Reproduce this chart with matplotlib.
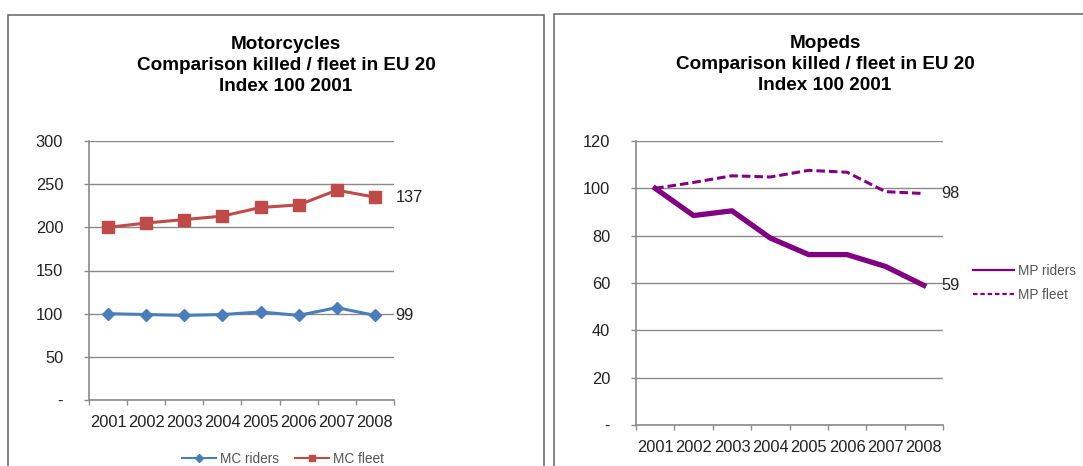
import matplotlib
matplotlib.use("Agg")
import matplotlib.pyplot as plt
import matplotlib.ticker as mticker
from matplotlib.lines import Line2D
from matplotlib.patches import Rectangle
import numpy as np

plt.rcParams["font.family"] = ["Liberation Sans", "DejaVu Sans"]

# ── data ──────────────────────────────────────────────────────────────────────
YEARS = ["2001", "2002", "2003", "2004", "2005", "2006", "2007", "2008"]

MC_RIDERS = [100, 99, 98, 99, 102, 98, 107, 98]
MC_FLEET = [200, 205, 209, 213, 223, 226, 243, 235]
MC_LABELS = {"MC riders": "99", "MC fleet": "137"}

MP_RIDERS = [100, 88.5, 90.5, 79, 72, 72, 67, 59]
MP_FLEET = [100, 102.5, 105.3, 104.8, 107.6, 106.8, 98.6, 97.8]
MP_LABELS = {"MP riders": "59", "MP fleet": "98"}

TITLE_MC = "Motorcycles\nComparison killed / fleet in EU 20\nIndex 100 2001"
TITLE_MP = "Mopeds\nComparison killed / fleet in EU 20\nIndex 100 2001"

# ── style ─────────────────────────────────────────────────────────────────────
W, H = 1083, 466
C_BLUE = "#4a7ebb"
C_RED = "#be4b48"
C_PURPLE = "#820082"
C_GRID = "#8a8a8a"
C_BORDER = "#6e6e6e"
FS_TICK = 11.8
FS_TITLE = 13.6
FS_LEG = 9.8


def px(x0, y0, x1, y1):
    """pixel box (top-left origin) -> figure fraction [l, b, w, h]"""
    return [x0 / W, 1 - y1 / H, (x1 - x0) / W, (y1 - y0) / H]


def style_axes(ax, ymax, step):
    n = len(YEARS)
    ax.set_xlim(-0.5, n - 0.5)
    ax.set_ylim(0, ymax)
    ax.set_yticks(np.arange(0, ymax + 1, step))
    ax.yaxis.set_major_formatter(
        mticker.FuncFormatter(lambda v, p: "-" if v == 0 else f"{v:.0f}"))
    ax.set_xticks(range(n))
    ax.set_xticklabels(YEARS)
    ax.set_xticks(np.arange(-0.5, n, 1), minor=True)
    ax.tick_params(axis="x", which="major", length=0, pad=10.5, labelsize=FS_TICK,
                   labelcolor="#222222")
    ax.tick_params(axis="x", which="minor", length=3.6, width=1, color=C_GRID,
                   direction="out")
    ax.tick_params(axis="y", length=3.6, width=1, color=C_GRID, pad=15,
                   labelsize=FS_TICK, labelcolor="#222222")
    ax.grid(axis="y", color=C_GRID, linewidth=1)
    ax.set_axisbelow(True)
    for s in ["top", "right"]:
        ax.spines[s].set_visible(False)
    for s in ["left", "bottom"]:
        ax.spines[s].set_color(C_GRID)
        ax.spines[s].set_linewidth(1.2)


fig = plt.figure(figsize=(W / 100, H / 100), dpi=100)

# panel frames (bottom edges run off the picture, as in the original crop)
fig.patches.append(Rectangle((8 / W, -0.1), (544 - 8) / W, 1.1 - 14.5 / H,
                             transform=fig.transFigure, fill=False,
                             edgecolor=C_BORDER, linewidth=1.2))
fig.patches.append(Rectangle((554 / W, -0.1), 1.0, 1.1 - 14 / H,
                             transform=fig.transFigure, fill=False,
                             edgecolor=C_BORDER, linewidth=1.2))

# ── Motorcycles ───────────────────────────────────────────────────────────────
ax1 = fig.add_axes(px(89, 141, 394, 400))
x = np.arange(len(YEARS))
ax1.plot(x, MC_RIDERS, color=C_BLUE, lw=2.2, marker="D", ms=6.5, zorder=3)
ax1.plot(x, MC_FLEET, color=C_RED, lw=2.2, marker="s", ms=8, zorder=3)
style_axes(ax1, 300, 50)
ax1.annotate(MC_LABELS["MC fleet"], (len(YEARS) - 0.5, MC_FLEET[-1]),
             xytext=(1, 0), textcoords="offset points", ha="left", va="center",
             fontsize=FS_TICK, color="#222222", annotation_clip=False)
ax1.annotate(MC_LABELS["MC riders"], (len(YEARS) - 0.5, MC_RIDERS[-1]),
             xytext=(1, 0), textcoords="offset points", ha="left", va="center",
             fontsize=FS_TICK, color="#222222", annotation_clip=False)

h_mc = [Line2D([], [], color=C_BLUE, lw=1.5, marker="D", ms=4),
        Line2D([], [], color=C_RED, lw=1.5, marker="s", ms=5)]
fig.legend(h_mc, ["MC riders", "MC fleet"], loc="center",
           bbox_to_anchor=(283 / W, 1 - 459 / H), ncol=2, frameon=False,
           fontsize=FS_LEG, handlelength=2.5, handletextpad=0.25,
           columnspacing=1.2, borderpad=0, labelcolor="#555555")

fig.text(286 / W, 1 - 65.5 / H, TITLE_MC, ha="center", va="center",
         fontsize=FS_TITLE, fontweight="bold", linespacing=1.3)

# ── Mopeds ────────────────────────────────────────────────────────────────────
ax2 = fig.add_axes(px(636, 141, 943, 425))
ax2.plot(x, MP_RIDERS, color=C_PURPLE, lw=3.8, solid_joinstyle="round", zorder=3)
ax2.plot(x, MP_FLEET, color=C_PURPLE, lw=2.2, dashes=(2.8, 1.3), zorder=3)
style_axes(ax2, 120, 20)
ax2.annotate(MP_LABELS["MP fleet"], (len(YEARS) - 0.5, MP_FLEET[-1]),
             xytext=(-1, 0), textcoords="offset points", ha="left", va="center",
             fontsize=FS_TICK, color="#222222", annotation_clip=False)
ax2.annotate(MP_LABELS["MP riders"], (len(YEARS) - 0.5, MP_RIDERS[-1]),
             xytext=(-1, 0), textcoords="offset points", ha="left", va="center",
             fontsize=FS_TICK, color="#222222", annotation_clip=False)

h_mp = [Line2D([], [], color=C_PURPLE, lw=1.6),
        Line2D([], [], color=C_PURPLE, lw=1.6, dashes=(2, 1.3))]
fig.legend(h_mp, ["MP riders", "MP fleet"], loc="center left",
           bbox_to_anchor=(973 / W, 1 - 283 / H), ncol=1, frameon=False,
           fontsize=FS_LEG, handlelength=3.0, handletextpad=0.3,
           labelspacing=0.7, borderpad=0, borderaxespad=0,
           labelcolor="#555555")

fig.text(825 / W, 1 - 64.5 / H, TITLE_MP, ha="center", va="center",
         fontsize=FS_TITLE, fontweight="bold", linespacing=1.3)

fig.savefig("out.png", dpi=100)
